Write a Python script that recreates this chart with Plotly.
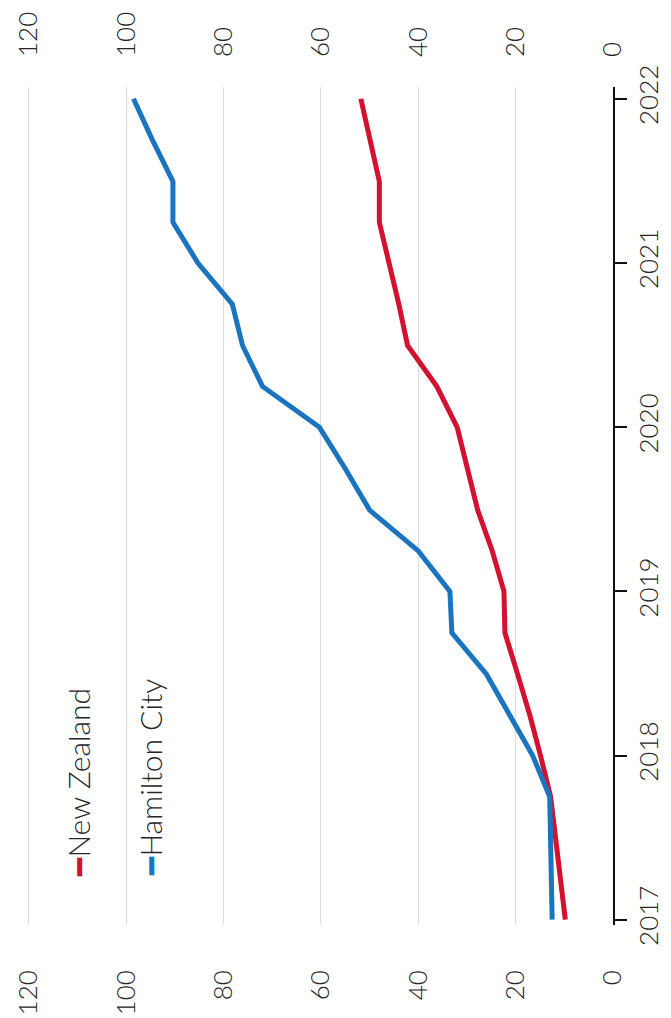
import plotly.graph_objects as go

# Quarterly observation dates
dates = ["2017-01-01", "2017-04-01", "2017-07-01", "2017-10-01",
         "2018-01-01", "2018-04-01", "2018-07-01", "2018-10-01",
         "2019-01-01", "2019-04-01", "2019-07-01", "2019-10-01",
         "2020-01-01", "2020-04-01", "2020-07-01", "2020-10-01",
         "2021-01-01", "2021-04-01", "2021-07-01", "2021-10-01",
         "2022-01-01"]

new_zealand = [9.8, 10.8, 11.8, 12.8,
               14.9, 17.1, 19.6, 22.2,
               22.4, 24.8, 27.8, 30.0,
               32.0, 36.2, 42.2, 44.0,
               46.0, 48.0, 48.0, 50.0,
               51.8]

hamilton = [12.5, 12.7, 12.8, 13.0,
            16.5, 21.2, 26.0, 33.1,
            33.5, 40.0, 50.0, 55.0,
            60.3, 72.0, 76.1, 78.2,
            85.3, 90.4, 90.4, 94.6,
            98.5]

value_ticks = [0, 20, 40, 60, 80, 100, 120]
series_names = ["New Zealand", "Hamilton City"]

RED = "#d3122f"
BLUE = "#1b74c0"
GRID = "#dcdce8"
FONT = "Lato"
TXT = "#262626"

fig = go.Figure()
fig.add_trace(go.Scatter(x=new_zealand, y=dates, mode="lines", name=series_names[0],
                         line=dict(color=RED, width=5), showlegend=False,
                         xaxis="x", yaxis="y"))
fig.add_trace(go.Scatter(x=hamilton, y=dates, mode="lines", name=series_names[1],
                         line=dict(color=BLUE, width=5), showlegend=False,
                         xaxis="x2", yaxis="y"))

tickfont = dict(family=FONT, size=26, color=TXT, weight=300)

# page body has an 8px default margin, so the figure is 8px smaller
fig.update_layout(
    width=663, height=1010, autosize=False,
    margin=dict(l=15, r=58, t=79, b=93),
    paper_bgcolor="white", plot_bgcolor="white",
    font=dict(family=FONT, color=TXT, weight=300),
    xaxis=dict(range=[121.2, 0], tickvals=value_ticks, ticks="", showgrid=True,
               gridcolor=GRID, gridwidth=1, zeroline=False, showline=False,
               tickangle=-90, tickfont=tickfont, ticklabelstandoff=39,
               automargin=False),
    xaxis2=dict(overlaying="x", matches="x", side="top", range=[121.2, 0],
                tickvals=value_ticks, ticks="", showgrid=False, zeroline=False,
                showline=False, tickangle=-90, tickfont=tickfont, ticklabelstandoff=29,
                automargin=False),
    yaxis=dict(type="date", side="right", range=["2016-12-20", "2022-01-27"],
               tick0="2017-01-01", dtick="M12", tickformat="%Y",
               ticks="outside", ticklen=12, tickwidth=1.5, tickcolor="#111",
               showline=True, linecolor="#111", linewidth=1.5, showgrid=False,
               zeroline=False, tickangle=-90, tickfont=tickfont, ticklabelstandoff=0,
               automargin=False),
)

legend_items = [(series_names[0], RED, 0.0932), (series_names[1], BLUE, 0.2153)]
for name, col, xp in legend_items:
    fig.add_annotation(
        xref="paper", yref="paper", x=xp, y=0.056, xanchor="center", yanchor="bottom",
        text=f"<span style='color:{col}'>━</span>{name}", textangle=-90, showarrow=False,
        font=dict(family=FONT, size=30, color=TXT, weight=300))

fig.write_html("out.html")
